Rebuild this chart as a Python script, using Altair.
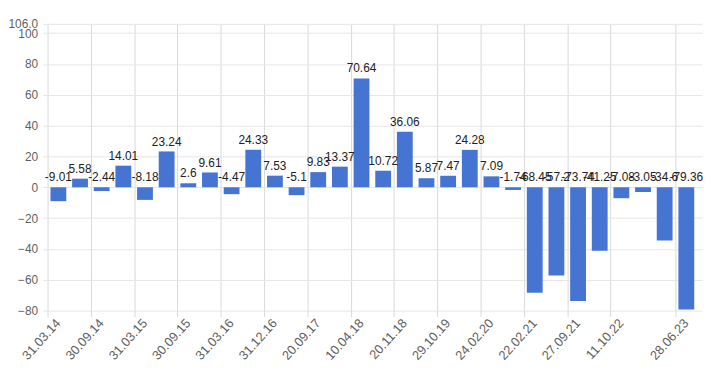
import altair as alt
import pandas as pd

values = [-9.01, 5.58, -2.44, 14.01, -8.18, 23.24, 2.6, 9.61, -4.47, 24.33,
          7.53, -5.1, 9.83, 13.37, 70.64, 10.72, 36.06, 5.87, 7.47, 24.28,
          7.09, -1.74, -68.45, -57.2, -73.74, -41.25, -7.08, -3.05, -34.6, -79.36]
tick_labels = ["31.03.14", "30.09.14", "31.03.15", "30.09.15", "31.03.16", "31.12.16",
               "20.09.17", "10.04.18", "20.11.18", "29.10.19", "24.02.20", "22.02.21",
               "27.09.21", "11.10.22", "28.06.23"]
tick_bars = [0, 2, 4, 6, 8, 10, 12, 14, 16, 18, 20, 22, 24, 26, 29]
y_ticks = [-80, -60, -40, -20, 0, 20, 40, 60, 80, 100, 106]

df = pd.DataFrame({"i": list(range(len(values))), "value": values})
df["label"] = [f"{v:g}" for v in values]

expr = "''"
for p, l in reversed(list(zip(tick_bars, tick_labels))):
    expr = f"datum.value == {p} ? '{l}' : ({expr})"

FONT = "Liberation Sans"

base = alt.Chart(df).transform_calculate(
    c="datum.i + 0.5", top="max(datum.value, 0)"
)

x_axis = alt.Axis(values=tick_bars, tickCount=40, labelExpr=expr, title=None,
                  grid=True, gridColor="#d9d9d9", domain=False, ticks=True,
                  tickSize=6, tickColor="#d9d9d9", labelAngle=-48,
                  labelAlign="right", labelBaseline="top", labelPadding=0,
                  labelOffset=6, labelFont=FONT, labelOverlap=False,
                  labelFontSize=13, labelColor="#5f5f5f")
y_axis = alt.Axis(values=y_ticks, tickCount=40, title=None, grid=True,
                  gridColor="#e6e6e6", domain=False, ticks=False,
                  labelPadding=5, labelOverlap=False,
                  labelExpr="datum.value == 106 ? '106.0' : datum.label",
                  labelFont=FONT, labelFontSize=12, labelColor="#5f5f5f")
x_scale = alt.Scale(domain=[0, len(values)], nice=False, zero=False)
y_scale = alt.Scale(domain=[-80, 106], nice=False, zero=False)

bars = base.mark_bar(size=16, color="#4674d2").encode(
    x=alt.X("c:Q", scale=x_scale, axis=x_axis),
    y=alt.Y("value:Q", scale=y_scale, axis=y_axis),
    y2=alt.datum(0),
)

text = base.mark_text(font=FONT, fontSize=12, color="#222222", baseline="middle",
                      align="center", dy=-10).encode(
    x=alt.X("c:Q", scale=x_scale, axis=x_axis),
    y=alt.Y("top:Q", scale=y_scale, axis=y_axis),
    text="label:N",
)

chart = alt.layer(bars, text).properties(
    width=667, height=290,
    autosize=alt.AutoSizeParams(type="none"),
    padding={"left": 35, "top": 14, "right": 8, "bottom": 56},
).configure_view(stroke=None)

chart.save("out.html", embed_options={"renderer": "svg", "actions": False})
